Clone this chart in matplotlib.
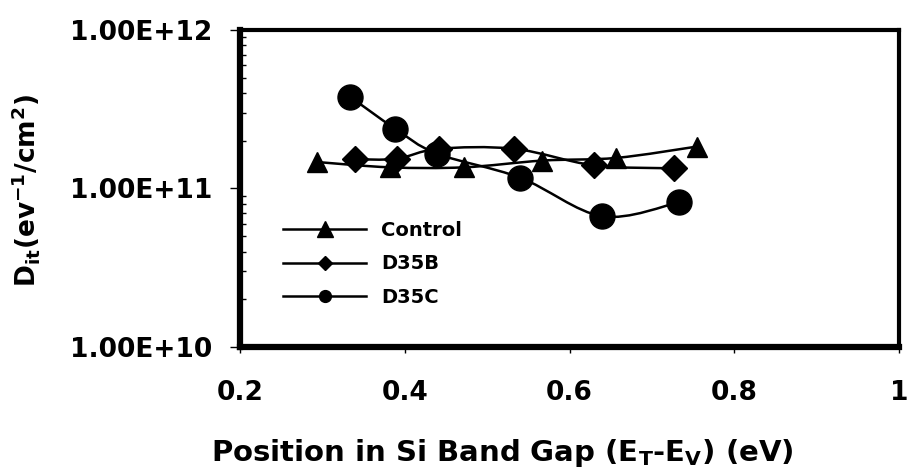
import numpy as np
import matplotlib
matplotlib.use("Agg")
import matplotlib.pyplot as plt
from matplotlib.path import Path
from matplotlib.patches import PathPatch
from matplotlib.lines import Line2D
from matplotlib.ticker import FixedLocator, FuncFormatter, LogLocator, NullFormatter

# Interface trap density vs. energy position in the Si band gap
control_x = [0.293, 0.382, 0.472, 0.567, 0.657, 0.755]
control_y = [1.47e11, 1.36e11, 1.36e11, 1.50e11, 1.56e11, 1.84e11]

d35b_x = [0.340, 0.390, 0.441, 0.533, 0.630, 0.727]
d35b_y = [1.53e11, 1.54e11, 1.78e11, 1.78e11, 1.40e11, 1.34e11]

d35c_x = [0.334, 0.388, 0.439, 0.540, 0.640, 0.733]
d35c_y = [3.78e11, 2.39e11, 1.66e11, 1.17e11, 6.68e10, 8.19e10]

series_names = ["Control", "D35B", "D35C"]

plt.rcParams["font.family"] = ["DejaVu Sans"]
plt.rcParams["font.weight"] = "bold"
plt.rcParams["mathtext.default"] = "bf"


def smooth_path(xs, ys):
    # Bezier curve through the points (Catmull-Rom control points), built in log-y space
    px = np.asarray(xs, float)
    py = np.log10(np.asarray(ys, float))
    pts = np.column_stack([px, py])
    n = len(pts)
    verts = [pts[0]]
    codes = [Path.MOVETO]
    for i in range(n - 1):
        p0 = pts[i - 1] if i > 0 else pts[i]
        p1 = pts[i]
        p2 = pts[i + 1]
        p3 = pts[i + 2] if i + 2 < n else pts[i + 1]
        c1 = p1 + (p2 - p0) / 6.0
        c2 = p2 - (p3 - p1) / 6.0
        verts += [c1, c2, p2]
        codes += [Path.CURVE4] * 3
    verts = np.array(verts)
    verts[:, 1] = 10 ** verts[:, 1]
    return Path(verts, codes)


fig = plt.figure(figsize=(9.09, 4.76), dpi=100)
ax = fig.add_axes([240 / 909, 0.271, 659 / 909, 0.666])
ax.set_yscale("log")
ax.set_xlim(0.2, 1.0)
ax.set_ylim(1e10, 1e12)

series = [
    (control_x, control_y, "^", 15),
    (d35b_x, d35b_y, "D", 13),
    (d35c_x, d35c_y, "o", 18),
]
for xs, ys, mk, ms in series:
    ax.add_patch(PathPatch(smooth_path(xs, ys), facecolor="none",
                           edgecolor="black", lw=1.8, zorder=2))
    ax.plot(xs, ys, linestyle="none", marker=mk, markersize=ms,
            color="black", zorder=3)

# axis frame
for side in ["left", "bottom"]:
    ax.spines[side].set_linewidth(4.5)
for side in ["top", "right"]:
    ax.spines[side].set_linewidth(3)

ax.xaxis.set_major_locator(FixedLocator([0.2, 0.4, 0.6, 0.8, 1.0]))
ax.xaxis.set_major_formatter(FuncFormatter(lambda v, p: f"{v:g}"))
ax.yaxis.set_major_locator(FixedLocator([1e10, 1e11, 1e12]))
ax.yaxis.set_major_formatter(FuncFormatter(lambda v, p: f"{v:.2E}"))
ax.yaxis.set_minor_locator(LogLocator(base=10, subs=np.arange(2, 10)))
ax.yaxis.set_minor_formatter(NullFormatter())

ax.tick_params(axis="y", which="major", direction="out", length=7, width=1,
               pad=13, labelsize=19)
ax.tick_params(axis="y", which="minor", direction="in", length=4, width=1)
ax.tick_params(axis="x", which="major", direction="out", length=4, width=1,
               pad=20, labelsize=19)
for lab in ax.get_xticklabels() + ax.get_yticklabels():
    lab.set_fontweight("bold")

ax.set_xlabel(r"Position in Si Band Gap (E$_T$-E$_V$) (eV)", fontsize=21,
              fontweight="bold")
ax.set_ylabel(r"D$_{it}$(ev$^{-1}$/cm$^{2}$)", fontsize=19, fontweight="bold")
ax.xaxis.set_label_coords(0.398, -0.285)
ax.yaxis.set_label_coords(-0.30, 0.495)

handles = [
    Line2D([], [], color="black", lw=1.8, marker="^", markersize=12),
    Line2D([], [], color="black", lw=1.8, marker="D", markersize=7.5),
    Line2D([], [], color="black", lw=1.8, marker="o", markersize=8.5),
]
leg = ax.legend(handles, series_names, loc="center left",
                bbox_to_anchor=(0.065, 0.262), frameon=False, borderpad=0,
                borderaxespad=0, handlelength=4.3, handletextpad=0.75,
                labelspacing=0.75, prop={"size": 14, "weight": "bold"})

fig.savefig("out.png", dpi=100)
